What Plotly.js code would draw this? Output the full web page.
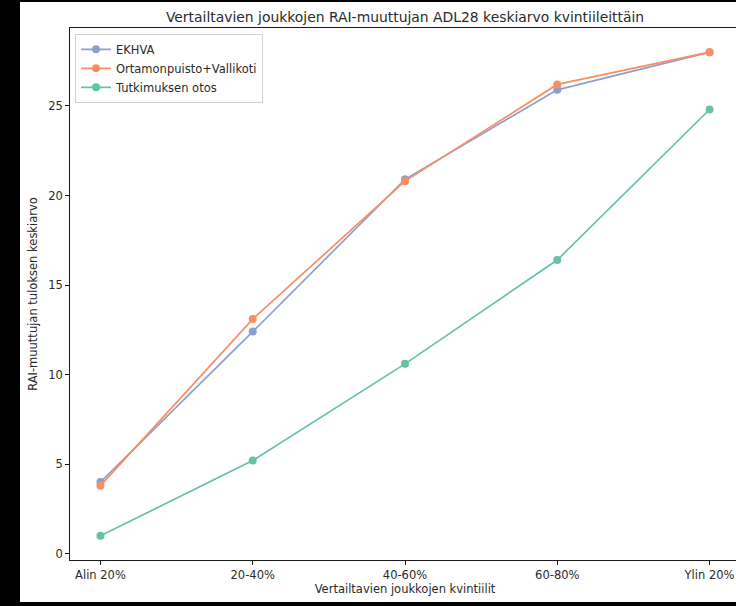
<!DOCTYPE html>
<html>
<head>
<meta charset="utf-8">
<script src="https://cdn.plot.ly/plotly-3.0.1.min.js"></script>
<style>
html, body { margin: 0; padding: 0; background: #000; overflow: hidden; width: 736px; height: 606px; }
#wrap { position: absolute; left: 20px; top: 2px; width: 740px; height: 600px; background: #fff; }
#chart { width: 740px; height: 600px; }
</style>
</head>
<body>
<div id="wrap"><div id="chart"></div></div>
<script>
const categories = ["Alin 20%", "20-40%", "40-60%", "60-80%", "Ylin 20%"];
const seriesNames = ["EKHVA", "Ortamonpuisto+Vallikoti", "Tutkimuksen otos"];
const ekhva = [4.0, 12.4, 20.9, 25.9, 28.0];
const ortamonpuisto = [3.8, 13.1, 20.8, 26.2, 28.0];
const tutkimus = [1.0, 5.2, 10.6, 16.4, 24.8];
const yTicks = [0, 5, 10, 15, 20, 25];

const colors = ["#8da0cb", "#fc8d62", "#66c2a5"];
const values = [ekhva, ortamonpuisto, tutkimus];
const font = "DejaVu Sans, sans-serif";

const traces = values.map((v, i) => ({
  type: "scatter",
  mode: "lines+markers",
  x: categories,
  y: v,
  name: seriesNames[i],
  line: { color: colors[i], width: 1.7 },
  marker: { color: colors[i], size: 8 }
}));

const axisCommon = {
  showgrid: false,
  zeroline: false,
  showline: true,
  mirror: true,
  linecolor: "#000",
  linewidth: 0.9,
  ticks: "outside",
  ticklen: 4,
  tickwidth: 0.9,
  tickcolor: "#000",
  tickfont: { family: font, size: 11.5, color: "#2a2a2a" }
};

const layout = {
  width: 740,
  height: 600,
  margin: { l: 50, r: 20, t: 26, b: 42 },
  paper_bgcolor: "#fff",
  plot_bgcolor: "#fff",
  font: { family: font, color: "#2a2a2a" },
  showlegend: true,
  title: {
    text: "Vertailtavien joukkojen RAI-muuttujan ADL28 keskiarvo kvintiileittäin",
    font: { family: font, size: 13.9, color: "#2a2a2a" },
    xref: "paper", x: 0.5, xanchor: "center",
    yref: "container", y: 1 - 15 / 600, yanchor: "middle"
  },
  xaxis: Object.assign({}, axisCommon, {
    type: "category",
    range: [-0.2, 4.2],
    title: { text: "Vertailtavien joukkojen kvintiilit", font: { family: font, size: 11.5, color: "#2a2a2a" }, standoff: 4 }
  }),
  yaxis: Object.assign({}, axisCommon, {
    range: [-0.35, 29.35],
    tickvals: yTicks,
    ticktext: yTicks.map(String),
    title: { text: "RAI-muuttujan tuloksen keskiarvo", font: { family: font, size: 11.5, color: "#2a2a2a" }, standoff: 8 }
  }),
  legend: {
    x: 0.0075, y: 0.989, xanchor: "left", yanchor: "top",
    bgcolor: "rgba(255,255,255,0.8)",
    bordercolor: "#d0d0d0",
    borderwidth: 1,
    font: { family: font, size: 11.5, color: "#2a2a2a" },
    traceorder: "normal"
  }
};

Plotly.newPlot("chart", traces, layout, { displayModeBar: false, staticPlot: true });
</script>
</body>
</html>
